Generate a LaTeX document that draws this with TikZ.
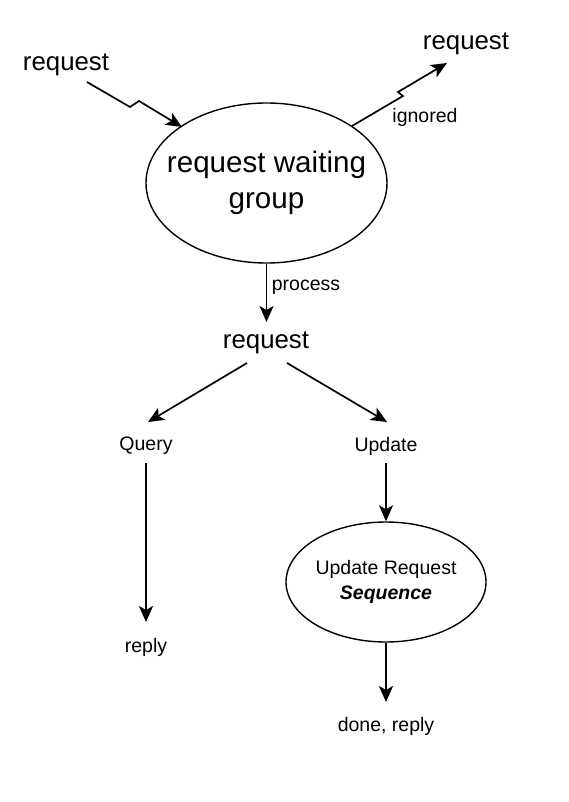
\documentclass[tikz,border=0pt]{standalone}
\usepackage{fontspec}
\setmainfont{Liberation Sans}
\usetikzlibrary{arrows.meta,shapes.geometric,calc}
\begin{document}
\begin{tikzpicture}[x=1pt,y=-1pt,
  big/.style={font=\fontsize{25.8}{31}\selectfont, inner sep=0pt},
  small/.style={font=\fontsize{19.5}{24.5}\selectfont, inner sep=0pt},
  oval/.style={ellipse, draw, line width=1.4pt, inner xsep=-30pt, inner ysep=0pt, align=center},
  conn/.style={line width=1.7pt, line join=miter, -{Stealth[length=16pt,width=14pt,inset=4pt]}}]
\useasboundingbox (0,0) rectangle (568,802);
% nodes
\node[big] (reqL) at (66,65) {request};
\node[big] (reqR) at (466,44) {request};
\node[oval, minimum width=241pt, minimum height=160pt,
      font=\fontsize{29.6}{36}\selectfont] (wait) at (266.5,183) {request waiting\\group};
\node[small] (ign) at (425,117) {ignored};
\node[small] (proc) at (306,287) {process};
\node[big] (mid) at (266,343) {request};
\node[small] (query) at (146,446) {Query};
\node[small] (upd) at (386,446) {Update};
\node[small] (reply) at (146,647) {reply};
\node[oval, minimum width=200pt, minimum height=120pt,
      font=\fontsize{19.5}{24.5}\selectfont] (seq) at (386,582) {Update Request\\\textbf{\textit{Sequence}}};
\node[small] (done) at (386,726) {done, reply};
% zig-zag points
\coordinate (z1) at (130,107);
\coordinate (z2) at (139,101);
\coordinate (z3) at (403,96);
\coordinate (z4) at (398,92);
% connectors
\draw[conn] ($(reqL.center)+(21,17)$) -- (z1) -- (z2) -- ($(wait.center)+(-84.5,-56)$);
\draw[conn] ($(wait.center)+(85.5,-57)$) -- (z3) -- (z4) -- ($(reqR.center)+(-19,19)$);
\draw[conn] (wait.south) -- ($(mid.center)+(0.5,-21)$);
\draw[conn] ($(mid.center)+(-19,20)$) -- ($(query.center)+(2,-24)$);
\draw[conn] ($(mid.center)+(21,20)$) -- ($(upd.center)+(1,-24)$);
\draw[conn] ($(query.center)+(0,17)$) -- ($(reply.center)+(0,-25)$);
\draw[conn] ($(upd.center)+(0,17)$) -- (seq.north);
\draw[conn] (seq.south) -- ($(done.center)+(0,-24)$);
\end{tikzpicture}
\end{document}
